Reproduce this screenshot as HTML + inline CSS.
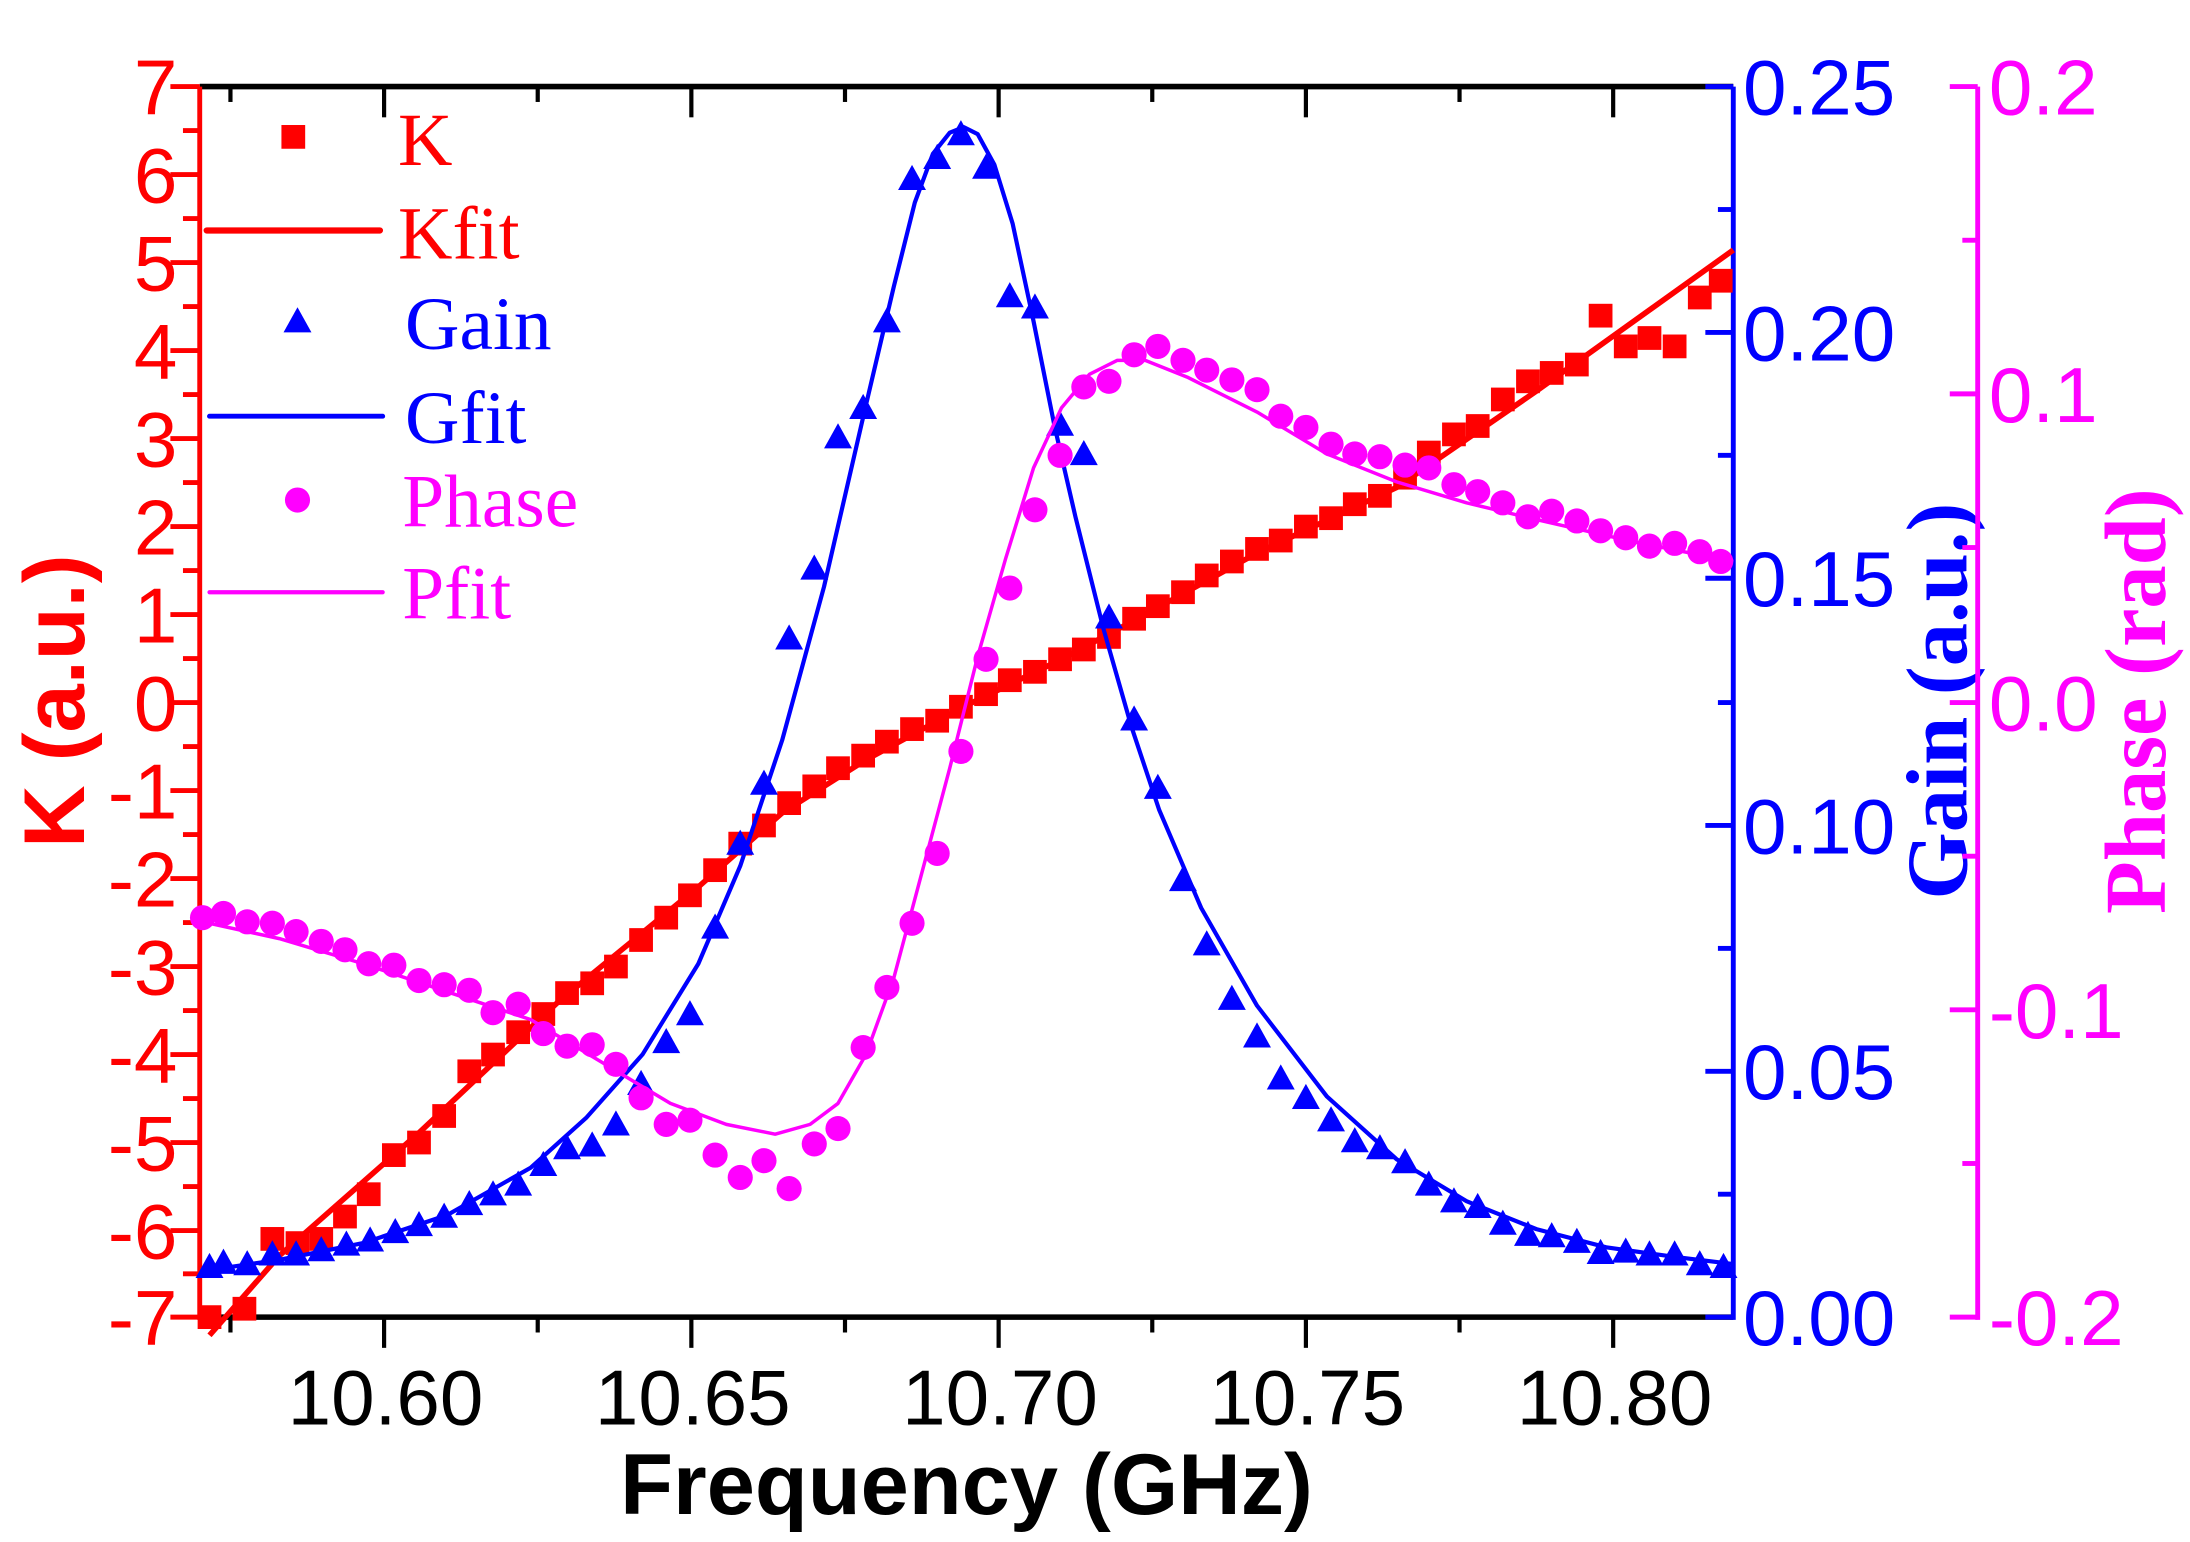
<!DOCTYPE html>
<html><head><meta charset="utf-8"><style>
html,body{margin:0;padding:0;background:#fff;}
svg{display:block}
</style></head><body>
<svg width="2190" height="1542" viewBox="0 0 1568 1104" preserveAspectRatio="none" xmlns="http://www.w3.org/2000/svg">
<defs>
<rect id="sq" x="-8.5" y="-8.5" width="17" height="17" fill="#f00"/>
<polygon id="tr" points="0,-10 10,8 -10,8" fill="#00f"/>
<circle id="ci" r="9" fill="#f0f"/>
</defs>
<rect width="1568" height="1104" fill="#fff"/>

<g stroke="#000" stroke-width="4" fill="none">
<line x1="143" y1="62" x2="1241" y2="62"/>
<line x1="143" y1="943" x2="1241" y2="943"/>
</g>
<g stroke="#000" stroke-width="3">
<line x1="275" y1="943" x2="275" y2="965"/><line x1="495" y1="943" x2="495" y2="965"/><line x1="715" y1="943" x2="715" y2="965"/><line x1="935" y1="943" x2="935" y2="965"/><line x1="1155" y1="943" x2="1155" y2="965"/>
<line x1="165" y1="943" x2="165" y2="954"/><line x1="385" y1="943" x2="385" y2="954"/><line x1="605" y1="943" x2="605" y2="954"/><line x1="825" y1="943" x2="825" y2="954"/><line x1="1045" y1="943" x2="1045" y2="954"/>
<line x1="275" y1="62" x2="275" y2="84"/><line x1="495" y1="62" x2="495" y2="84"/><line x1="715" y1="62" x2="715" y2="84"/><line x1="935" y1="62" x2="935" y2="84"/><line x1="1155" y1="62" x2="1155" y2="84"/>
<line x1="165" y1="62" x2="165" y2="73"/><line x1="385" y1="62" x2="385" y2="73"/><line x1="605" y1="62" x2="605" y2="73"/><line x1="825" y1="62" x2="825" y2="73"/><line x1="1045" y1="62" x2="1045" y2="73"/>
</g>
<g stroke="#f00" stroke-width="3.5">
<line x1="143" y1="62" x2="143" y2="945"/>
<line x1="122" y1="62" x2="143" y2="62"/><line x1="122" y1="125" x2="143" y2="125"/><line x1="122" y1="188" x2="143" y2="188"/><line x1="122" y1="251" x2="143" y2="251"/><line x1="122" y1="314" x2="143" y2="314"/><line x1="122" y1="377" x2="143" y2="377"/><line x1="122" y1="440" x2="143" y2="440"/><line x1="122" y1="503" x2="143" y2="503"/><line x1="122" y1="566" x2="143" y2="566"/><line x1="122" y1="629" x2="143" y2="629"/><line x1="122" y1="692" x2="143" y2="692"/><line x1="122" y1="755" x2="143" y2="755"/><line x1="122" y1="818" x2="143" y2="818"/><line x1="122" y1="881" x2="143" y2="881"/><line x1="122" y1="943" x2="143" y2="943"/>
<line x1="131" y1="93.5" x2="143" y2="93.5"/><line x1="131" y1="156.5" x2="143" y2="156.5"/><line x1="131" y1="219.5" x2="143" y2="219.5"/><line x1="131" y1="282.5" x2="143" y2="282.5"/><line x1="131" y1="345.5" x2="143" y2="345.5"/><line x1="131" y1="408.5" x2="143" y2="408.5"/><line x1="131" y1="471.5" x2="143" y2="471.5"/><line x1="131" y1="534.5" x2="143" y2="534.5"/><line x1="131" y1="597.5" x2="143" y2="597.5"/><line x1="131" y1="660.5" x2="143" y2="660.5"/><line x1="131" y1="723.5" x2="143" y2="723.5"/><line x1="131" y1="786.5" x2="143" y2="786.5"/><line x1="131" y1="849.5" x2="143" y2="849.5"/><line x1="131" y1="912" x2="143" y2="912"/>
</g>
<g fill="#f00" font-family="Liberation Sans, sans-serif" font-size="56" text-anchor="end">
<text x="127" y="82">7</text><text x="127" y="145">6</text><text x="127" y="208">5</text><text x="127" y="271">4</text><text x="127" y="334">3</text><text x="127" y="397">2</text><text x="127" y="460">1</text><text x="127" y="523">0</text><text x="127" y="586">-1</text><text x="127" y="649">-2</text><text x="127" y="712">-3</text><text x="127" y="775">-4</text><text x="127" y="838">-5</text><text x="127" y="901">-6</text><text x="127" y="963">-7</text>
</g>
<text transform="translate(60,502) rotate(-90)" fill="#f00" font-family="Liberation Sans, sans-serif" font-weight="bold" font-size="62" text-anchor="middle">K (a.u.)</text>

<g stroke="#00f" stroke-width="3.5">
<line x1="1241" y1="62" x2="1241" y2="945"/>
<line x1="1221" y1="62" x2="1241" y2="62"/><line x1="1221" y1="238" x2="1241" y2="238"/><line x1="1221" y1="414" x2="1241" y2="414"/><line x1="1221" y1="591" x2="1241" y2="591"/><line x1="1221" y1="767" x2="1241" y2="767"/><line x1="1221" y1="943" x2="1241" y2="943"/>
<line x1="1230" y1="150" x2="1241" y2="150"/><line x1="1230" y1="326" x2="1241" y2="326"/><line x1="1230" y1="503" x2="1241" y2="503"/><line x1="1230" y1="679" x2="1241" y2="679"/><line x1="1230" y1="855" x2="1241" y2="855"/>
</g>
<g fill="#00f" font-family="Liberation Sans, sans-serif" font-size="56">
<text x="1248" y="82">0.25</text><text x="1248" y="258">0.20</text><text x="1248" y="434">0.15</text><text x="1248" y="611">0.10</text><text x="1248" y="787">0.05</text><text x="1248" y="963">0.00</text>
</g>
<text transform="translate(1408,502) rotate(-90)" fill="#00f" font-family="Liberation Serif, serif" font-weight="bold" font-size="62" text-anchor="middle">Gain (a.u.)</text>

<g stroke="#f0f" stroke-width="3.5">
<line x1="1416" y1="62" x2="1416" y2="945"/>
<line x1="1396" y1="62" x2="1416" y2="62"/><line x1="1396" y1="282" x2="1416" y2="282"/><line x1="1396" y1="503" x2="1416" y2="503"/><line x1="1396" y1="723" x2="1416" y2="723"/><line x1="1396" y1="943" x2="1416" y2="943"/>
<line x1="1405" y1="172" x2="1416" y2="172"/><line x1="1405" y1="392" x2="1416" y2="392"/><line x1="1405" y1="613" x2="1416" y2="613"/><line x1="1405" y1="833" x2="1416" y2="833"/>
</g>
<g fill="#f0f" font-family="Liberation Sans, sans-serif" font-size="56">
<text x="1424" y="82">0.2</text><text x="1424" y="302">0.1</text><text x="1424" y="523">0.0</text><text x="1424" y="743">-0.1</text><text x="1424" y="963">-0.2</text>
</g>
<text transform="translate(1550,502) rotate(-90)" fill="#f0f" font-family="Liberation Serif, serif" font-weight="bold" font-size="62" text-anchor="middle">Phase (rad)</text>

<g fill="#000" font-family="Liberation Sans, sans-serif" font-size="56" text-anchor="middle">
<text x="276" y="1020">10.60</text><text x="496" y="1020">10.65</text><text x="716" y="1020">10.70</text><text x="936" y="1020">10.75</text><text x="1156" y="1020">10.80</text>
</g>
<text x="692" y="1084" fill="#000" font-family="Liberation Sans, sans-serif" font-weight="bold" font-size="62" text-anchor="middle">Frequency (GHz)</text>

<g>
<use href="#sq" x="150" y="943"/><use href="#sq" x="175" y="937"/><use href="#sq" x="195" y="887"/><use href="#sq" x="213" y="890"/><use href="#sq" x="230" y="887"/><use href="#sq" x="247" y="871"/><use href="#sq" x="264" y="855"/><use href="#sq" x="282" y="827"/><use href="#sq" x="300" y="818"/><use href="#sq" x="318" y="799"/><use href="#sq" x="336" y="767"/><use href="#sq" x="353" y="755"/><use href="#sq" x="371" y="739"/><use href="#sq" x="389" y="726"/><use href="#sq" x="406" y="711"/><use href="#sq" x="424" y="704"/><use href="#sq" x="441" y="692"/><use href="#sq" x="459" y="673"/><use href="#sq" x="477" y="657"/><use href="#sq" x="494" y="641"/><use href="#sq" x="512" y="623"/><use href="#sq" x="530" y="604"/><use href="#sq" x="547" y="591"/><use href="#sq" x="565" y="575"/><use href="#sq" x="583" y="563"/><use href="#sq" x="600" y="550"/><use href="#sq" x="618" y="541"/><use href="#sq" x="635" y="531"/><use href="#sq" x="653" y="522"/><use href="#sq" x="671" y="516"/><use href="#sq" x="688" y="506"/><use href="#sq" x="706" y="497"/><use href="#sq" x="723" y="487"/><use href="#sq" x="741" y="481"/><use href="#sq" x="759" y="472"/><use href="#sq" x="776" y="465"/><use href="#sq" x="794" y="456"/><use href="#sq" x="812" y="443"/><use href="#sq" x="829" y="434"/><use href="#sq" x="847" y="424"/><use href="#sq" x="864" y="412"/><use href="#sq" x="882" y="402"/><use href="#sq" x="900" y="393"/><use href="#sq" x="917" y="387"/><use href="#sq" x="935" y="377"/><use href="#sq" x="953" y="371"/><use href="#sq" x="970" y="361"/><use href="#sq" x="988" y="355"/><use href="#sq" x="1006" y="342"/><use href="#sq" x="1023" y="324"/><use href="#sq" x="1041" y="311"/><use href="#sq" x="1058" y="305"/><use href="#sq" x="1076" y="286"/><use href="#sq" x="1094" y="273"/><use href="#sq" x="1111" y="267"/><use href="#sq" x="1129" y="261"/><use href="#sq" x="1146" y="226"/><use href="#sq" x="1164" y="248"/><use href="#sq" x="1181" y="242"/><use href="#sq" x="1199" y="248"/><use href="#sq" x="1217" y="213"/><use href="#sq" x="1232" y="201"/>
</g>
<polyline fill="none" stroke="#f00" stroke-width="4" points="150,956 200,899 300,811 400,717 500,635 560,582 620,544 690,506 760,472 820,440 900,396 1000,349 1100,280 1241,179"/>

<g>
<use href="#tr" x="150" y="907"/><use href="#tr" x="160" y="904"/><use href="#tr" x="177" y="905"/><use href="#tr" x="195" y="898"/><use href="#tr" x="212" y="898"/><use href="#tr" x="230" y="895"/><use href="#tr" x="248" y="891"/><use href="#tr" x="265" y="888"/><use href="#tr" x="283" y="882"/><use href="#tr" x="300" y="877"/><use href="#tr" x="318" y="871"/><use href="#tr" x="336" y="862"/><use href="#tr" x="353" y="855"/><use href="#tr" x="371" y="848"/><use href="#tr" x="389" y="834"/><use href="#tr" x="406" y="822"/><use href="#tr" x="424" y="820"/><use href="#tr" x="441" y="805"/><use href="#tr" x="459" y="776"/><use href="#tr" x="477" y="746"/><use href="#tr" x="494" y="726"/><use href="#tr" x="512" y="664"/><use href="#tr" x="530" y="604"/><use href="#tr" x="547" y="561"/><use href="#tr" x="565" y="457"/><use href="#tr" x="583" y="407"/><use href="#tr" x="600" y="313"/><use href="#tr" x="618" y="292"/><use href="#tr" x="635" y="230"/><use href="#tr" x="653" y="128"/><use href="#tr" x="671" y="113"/><use href="#tr" x="688" y="96"/><use href="#tr" x="706" y="120"/><use href="#tr" x="723" y="212"/><use href="#tr" x="741" y="220"/><use href="#tr" x="759" y="304"/><use href="#tr" x="776" y="325"/><use href="#tr" x="794" y="442"/><use href="#tr" x="812" y="515"/><use href="#tr" x="829" y="564"/><use href="#tr" x="847" y="630"/><use href="#tr" x="864" y="676"/><use href="#tr" x="882" y="715"/><use href="#tr" x="900" y="742"/><use href="#tr" x="917" y="772"/><use href="#tr" x="935" y="786"/><use href="#tr" x="953" y="802"/><use href="#tr" x="970" y="817"/><use href="#tr" x="988" y="822"/><use href="#tr" x="1006" y="832"/><use href="#tr" x="1023" y="848"/><use href="#tr" x="1041" y="860"/><use href="#tr" x="1058" y="864"/><use href="#tr" x="1076" y="876"/><use href="#tr" x="1094" y="884"/><use href="#tr" x="1111" y="885"/><use href="#tr" x="1129" y="889"/><use href="#tr" x="1146" y="897"/><use href="#tr" x="1164" y="896"/><use href="#tr" x="1181" y="898"/><use href="#tr" x="1199" y="898"/><use href="#tr" x="1217" y="905"/><use href="#tr" x="1234" y="907"/>
</g>
<polyline fill="none" stroke="#00f" stroke-width="3" stroke-linejoin="round" points="145,910 200,902 260,890 320,870 380,836 420,800 460,755 500,690 530,620 560,530 590,420 620,290 640,205 655,145 668,110 680,95 690,91 700,96 712,118 725,160 740,230 755,305 770,370 790,450 810,520 830,580 860,650 900,720 950,785 1000,830 1050,860 1100,880 1150,893 1200,900 1241,905"/>

<g>
<use href="#ci" x="145" y="657"/><use href="#ci" x="160" y="654"/><use href="#ci" x="177" y="660"/><use href="#ci" x="195" y="661"/><use href="#ci" x="212" y="667"/><use href="#ci" x="230" y="674"/><use href="#ci" x="247" y="680"/><use href="#ci" x="264" y="690"/><use href="#ci" x="282" y="691"/><use href="#ci" x="300" y="702"/><use href="#ci" x="318" y="705"/><use href="#ci" x="336" y="709"/><use href="#ci" x="353" y="725"/><use href="#ci" x="371" y="719"/><use href="#ci" x="389" y="740"/><use href="#ci" x="406" y="749"/><use href="#ci" x="424" y="748"/><use href="#ci" x="441" y="762"/><use href="#ci" x="459" y="786"/><use href="#ci" x="477" y="805"/><use href="#ci" x="494" y="802"/><use href="#ci" x="512" y="827"/><use href="#ci" x="530" y="843"/><use href="#ci" x="547" y="831"/><use href="#ci" x="565" y="851"/><use href="#ci" x="583" y="819"/><use href="#ci" x="600" y="808"/><use href="#ci" x="618" y="750"/><use href="#ci" x="635" y="707"/><use href="#ci" x="653" y="661"/><use href="#ci" x="671" y="611"/><use href="#ci" x="688" y="538"/><use href="#ci" x="706" y="472"/><use href="#ci" x="723" y="421"/><use href="#ci" x="741" y="365"/><use href="#ci" x="759" y="326"/><use href="#ci" x="776" y="277"/><use href="#ci" x="794" y="273"/><use href="#ci" x="812" y="254"/><use href="#ci" x="829" y="248"/><use href="#ci" x="847" y="258"/><use href="#ci" x="864" y="265"/><use href="#ci" x="882" y="272"/><use href="#ci" x="900" y="279"/><use href="#ci" x="917" y="298"/><use href="#ci" x="935" y="306"/><use href="#ci" x="953" y="318"/><use href="#ci" x="970" y="325"/><use href="#ci" x="988" y="327"/><use href="#ci" x="1006" y="333"/><use href="#ci" x="1023" y="335"/><use href="#ci" x="1041" y="347"/><use href="#ci" x="1058" y="352"/><use href="#ci" x="1076" y="360"/><use href="#ci" x="1094" y="370"/><use href="#ci" x="1111" y="366"/><use href="#ci" x="1129" y="373"/><use href="#ci" x="1146" y="380"/><use href="#ci" x="1164" y="385"/><use href="#ci" x="1181" y="391"/><use href="#ci" x="1199" y="389"/><use href="#ci" x="1217" y="395"/><use href="#ci" x="1232" y="402"/>
</g>
<polyline fill="none" stroke="#f0f" stroke-width="2.5" stroke-linejoin="round" points="145,660 200,672 260,690 320,710 380,730 430,760 480,790 520,805 555,812 580,805 600,790 620,755 640,700 660,625 680,550 700,470 720,400 740,335 760,292 780,268 800,258 820,258 850,270 900,295 950,325 1000,345 1050,360 1100,372 1170,388 1241,402"/>

<use href="#sq" x="210" y="98"/>
<line x1="148" y1="165" x2="272" y2="165" stroke="#f00" stroke-width="4.5" stroke-linecap="round"/>
<use href="#tr" x="213" y="230"/>
<line x1="150" y1="298" x2="274" y2="298" stroke="#00f" stroke-width="3.5" stroke-linecap="round"/>
<use href="#ci" x="213" y="358"/>
<line x1="150" y1="424" x2="274" y2="424" stroke="#f0f" stroke-width="3" stroke-linecap="round"/>
<g font-family="Liberation Serif, serif" font-size="54">
<text x="285" y="118" fill="#f00">K</text>
<text x="285" y="185" fill="#f00">Kfit</text>
<text x="290" y="250" fill="#00f">Gain</text>
<text x="290" y="317" fill="#00f">Gfit</text>
<text x="288" y="377" fill="#f0f">Phase</text>
<text x="288" y="443" fill="#f0f">Pfit</text>
</g>
</svg>
</body></html>
